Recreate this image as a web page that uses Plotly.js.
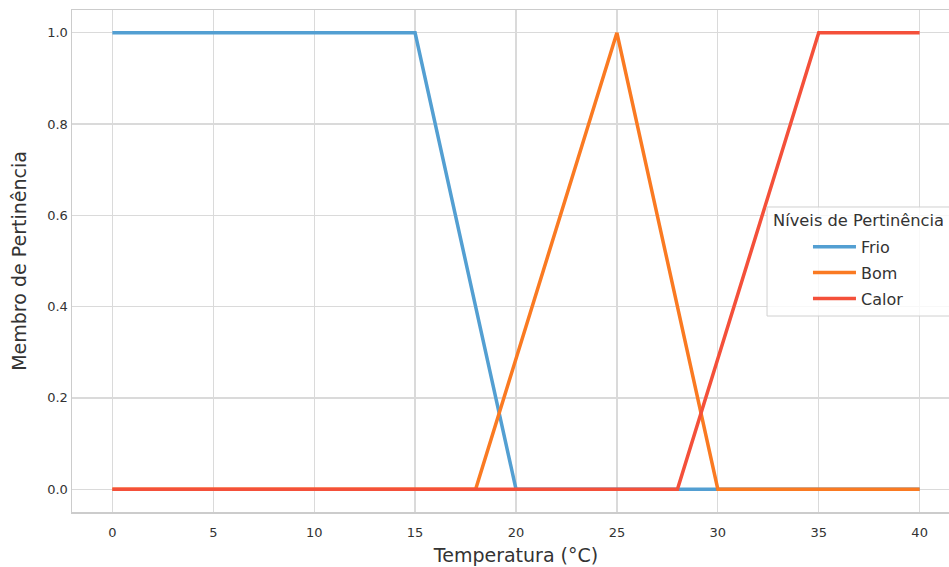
<!DOCTYPE html>
<html>
<head>
<meta charset="utf-8">
<script src="https://cdn.plot.ly/plotly-3.0.1.min.js"></script>
<style>
html,body{margin:0;padding:0;overflow:hidden;background:#fff;}
#chart{width:975px;height:567px;}
</style>
</head>
<body>
<div id="chart"></div>
<script>
const frioX = [0, 15, 20, 40];
const frioY = [1, 1, 0, 0];
const bomX = [0, 18, 25, 30, 40];
const bomY = [0, 0, 1, 0, 0];
const calorX = [0, 28, 35, 40];
const calorY = [0, 0, 1, 1];
const xTicks = [0, 5, 10, 15, 20, 25, 30, 35, 40];
const yTicks = [0, 0.2, 0.4, 0.6, 0.8, 1.0];
const yTickText = ["0.0", "0.2", "0.4", "0.6", "0.8", "1.0"];
const legendTitle = "Níveis de Pertinência";

const lw = 3.5;
const traces = [
  {x: frioX, y: frioY, name: "Frio", legendgroup: "a", mode: "lines", line: {color: "#539fd2", width: lw}},
  {x: bomX, y: bomY, name: "Bom", legendgroup: "b", mode: "lines", line: {color: "#fa7a22", width: lw}},
  {x: calorX, y: calorY, name: "Calor", legendgroup: "c", mode: "lines", line: {color: "#f4503a", width: lw}}
];

const font = "DejaVu Sans, sans-serif";
const layout = {
  width: 975, height: 567,
  margin: {l: 72, r: 15, t: 10, b: 55},
  paper_bgcolor: "#fff", plot_bgcolor: "#fff",
  font: {family: font, color: "#333"},
  showlegend: true,
  legend: {
    x: 0.8288, y: 0.562, xanchor: "left", yanchor: "top",
    bgcolor: "rgba(0,0,0,0)", borderwidth: 0,
    font: {family: font, size: 16, color: "#333"},
    itemwidth: 43, tracegroupgap: 2
  },
  shapes: [{
    type: "rect", xref: "paper", yref: "paper", layer: "above",
    x0: 0.7827, x1: 1.05, y0: 0.3904, y1: 0.6076,
    fillcolor: "rgba(255,255,255,0.8)", line: {color: "#d0d0d0", width: 1}
  }],
  annotations: [{
    text: legendTitle, xref: "paper", yref: "paper", x: 0.886, y: 0.580,
    xanchor: "center", yanchor: "middle", showarrow: false,
    font: {family: font, size: 16.3, color: "#333"}
  }],
  xaxis: {
    range: [-2, 42], tickvals: xTicks, ticktext: xTicks.map(String),
    showgrid: true, gridcolor: "#dadada", gridwidth: 1.2,
    showline: true, linecolor: "#cccccc", linewidth: 1.5, mirror: true,
    zeroline: false, ticks: "", ticklabelstandoff: 8,
    tickfont: {family: font, size: 13, color: "#333"},
    title: {text: "Temperatura (°C)", font: {family: font, size: 19, color: "#333"}, standoff: 9}
  },
  yaxis: {
    range: [-0.05, 1.05], tickvals: yTicks, ticktext: yTickText,
    showgrid: true, gridcolor: "#dadada", gridwidth: 1.2,
    showline: true, linecolor: "#cccccc", linewidth: 1.5, mirror: true,
    zeroline: false, ticks: "", tickfont: {family: font, size: 13, color: "#333"},
    title: {text: "Membro de Pertinência", font: {family: font, size: 19, color: "#333"}, standoff: 15}
  }
};
Plotly.newPlot("chart", traces, layout, {displayModeBar: false, staticPlot: true});
</script>
</body>
</html>
